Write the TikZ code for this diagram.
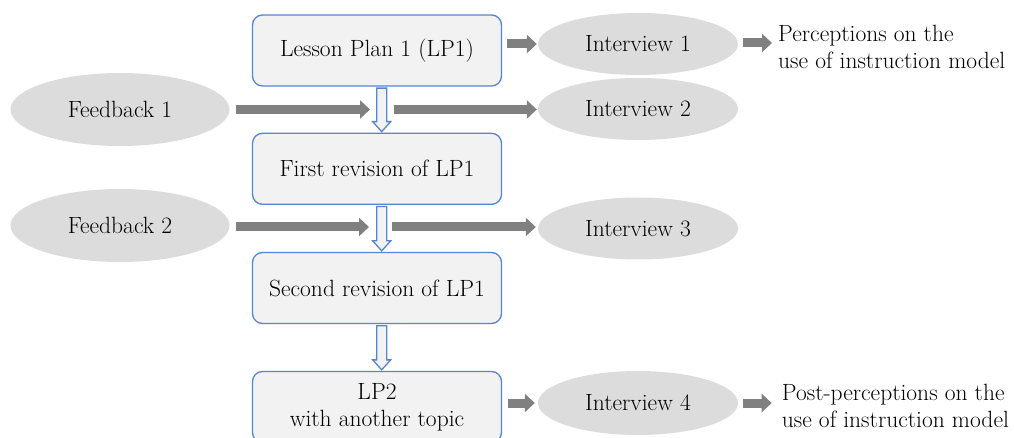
\documentclass[tikz,border=0pt]{standalone}
\usepackage{fontspec}
\usetikzlibrary{arrows.meta,calc,shapes.geometric}
\definecolor{boxblue}{RGB}{86,134,209}
\definecolor{boxfill}{RGB}{242,242,242}
\definecolor{ellfill}{RGB}{220,220,220}
\definecolor{arrgray}{RGB}{128,128,128}
\tikzset{
  every node/.style={font=\rmfamily\fontsize{23.5}{27.3}\selectfont, text=black},
  stage/.style={draw=boxblue, line width=1.3pt, fill=boxfill, rounded corners=10pt,
    minimum width=249pt, minimum height=71pt, inner sep=0pt, align=center},
  talk/.style={ellipse, fill=ellfill, minimum width=200pt, minimum height=62pt, inner sep=0pt},
  fbk/.style={ellipse, fill=ellfill, minimum width=219pt, minimum height=73pt, inner sep=0pt},
  outcome/.style={anchor=west, align=left, inner sep=0pt},
  garrow/.style={draw=arrgray, line width=9pt, -{Triangle[length=10pt,width=18pt]}},
  harrow/.style={draw=boxblue, line width=1.3pt, fill=boxfill, line join=miter},
}
\newcommand\hollowarr[2]{%
  \path[harrow] let \p1=($(#1.south)+(4.7,1.5)$), \p2=($(#2.north)+(4.7,-1)$) in
    (\x1-5pt,\y1) -- (\x1+5pt,\y1) -- (\x1+5pt,\y2+10pt) -- (\x1+9pt,\y2+10pt) --
    (\x1,\y2) -- (\x1-9pt,\y2+10pt) -- (\x1-5pt,\y2+10pt) -- cycle;}
\begin{document}
\begin{tikzpicture}[x=1pt,y=-1pt]
\clip (0,0) rectangle (1014,438);
\fill[white] (0,0) rectangle (1014,438);
% main column
\node[stage] (lp1) at (377,50.5) {Lesson Plan 1 (LP1)};
\node[stage] (rev1) at (377,168.8) {First revision of LP1};
\node[stage] (rev2) at (377,288) {Second revision of LP1};
\node[stage] (lp2) at (377,407) {LP2\\with another topic};
% interviews
\node[talk] (int1) at (638,44) {Interview 1};
\node[talk] (int2) at (638,109) {Interview 2};
\node[talk] (int3) at (638,228.5) {Interview 3};
\node[talk, minimum height=64pt] (int4) at (638,403) {Interview 4};
% feedback
\node[fbk] (fb1) at (120,109.5) {Feedback 1};
\node[fbk] (fb2) at (120,225.5) {Feedback 2};
% outcomes
\node[outcome] (perc) at (778,47) {Perceptions on the\\use of instruction model};
\node[outcome] (post) at (781.7,406) {Post-perceptions on the\\use of instruction model};
% junction points
\coordinate (j1l) at (370,109.5);
\coordinate (j1r) at (394,109.5);
\coordinate (j2l) at (369,227);
\coordinate (j2r) at (392,227);
% hollow arrows
\hollowarr{lp1}{rev1}
\hollowarr{rev1}{rev2}
\hollowarr{rev2}{lp2}
% gray arrows
\draw[garrow] ($(lp1.east|-int1.west)+(5,0)$) -- ($(int1.west)+(-1,0)$);
\draw[garrow] ($(int1.east)+(5,-1)$) -- ($(perc.west|-int1.east)+(-6,-1)$);
\draw[garrow] ($(fb1.east|-j1l)+(6,0)$) -- (j1l);
\draw[garrow] (j1r) -- ($(int2.west|-j1r)+(-1,0)$);
\draw[garrow] ($(fb2.east|-j2l)+(6,0)$) -- (j2l);
\draw[garrow] (j2r) -- ($(int3.west|-j2r)+(-2,0)$);
\draw[garrow] ($(lp2.east|-int4.west)+(5.5,0)$) -- ($(int4.west)+(-3,0)$);
\draw[garrow] ($(int4.east)+(4.7,0)$) -- ($(post.west|-int4.east)+(-10,0)$);
\end{tikzpicture}
\end{document}
